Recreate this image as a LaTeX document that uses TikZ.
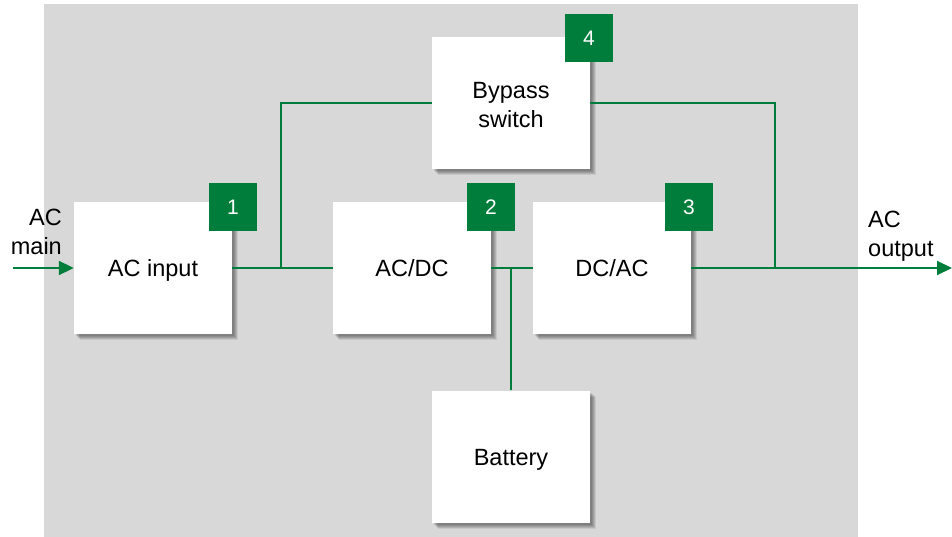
\documentclass[tikz,border=0pt]{standalone}
\usepackage{fontspec}
\setmainfont{Liberation Sans}
\usetikzlibrary{shadows,arrows.meta}
\definecolor{upsgreen}{RGB}{0,125,58}
\definecolor{panelgray}{RGB}{216,216,216}
\tikzset{
  x=1pt, y=-1pt,
  softshadow/.style={
    general shadow={fill=black,opacity=0.10,shadow xshift=2pt,shadow yshift=-2pt},
    general shadow={fill=black,opacity=0.10,shadow xshift=3pt,shadow yshift=-3pt},
    general shadow={fill=black,opacity=0.10,shadow xshift=4pt,shadow yshift=-4pt},
    general shadow={fill=black,opacity=0.10,shadow xshift=5pt,shadow yshift=-5pt},
    general shadow={fill=black,opacity=0.08,shadow xshift=6pt,shadow yshift=-6pt}},
  block/.style={softshadow, fill=white, minimum width=158pt, minimum height=132pt,
    inner sep=0pt, align=center, text height=17pt, text depth=0pt,
    font=\fontsize{23.5}{28.5}\selectfont},
  badge/.style={fill=upsgreen, text=white, minimum size=48pt, inner sep=0pt,
    font=\fontsize{21}{24}\selectfont},
  wire/.style={draw=upsgreen, line width=2pt},
  arrowwire/.style={wire, -{Triangle[length=15pt,width=14pt]}},
  label/.style={font=\fontsize{23.5}{29}\selectfont, inner sep=0pt}
}
\begin{document}
\begin{tikzpicture}
  % page area and grey panel
  \useasboundingbox (0,0) rectangle (952,537);
  \fill[panelgray] (44,4) rectangle (858,537);

  % junction points on the main power path
  \coordinate (jin)  at (281,268);
  \coordinate (jbat) at (511,268);
  \coordinate (jout) at (775,268);
  \coordinate (mainsrc) at (13,268);
  \coordinate (outend) at (952,268);

  % functional blocks
  \node[block] (acin)   at (153,268)   {AC input};
  \node[block] (acdc)   at (412,268)   {AC/DC};
  \node[block] (dcac)   at (612,268)   {DC/AC};
  \node[block, text height=49pt] (bypass) at (511,103) {Bypass\\switch};
  \node[block] (batt)   at (511,456.5) {Battery};

  % connections
  \draw[arrowwire] (mainsrc) -- (acin.west);
  \draw[wire] (acin.east) -- (acdc.west);
  \draw[wire] (jin) |- (bypass.west);
  \draw[wire] (bypass.east) -| (jout);
  \draw[wire] (acdc.east) -- (dcac.west);
  \draw[wire] (jbat) -- (batt.north);
  \draw[arrowwire] (dcac.east) -- (outend);

  % numbered badges
  \node[badge] (b1) at (233,207) {1};
  \node[badge] (b2) at (491,207) {2};
  \node[badge] (b3) at (689,207) {3};
  \node[badge] (b4) at (589,38)  {4};

  % external labels
  \node[label, anchor=east, align=right] (lmain) at (62,232) {AC\\main};
  \node[label, anchor=west, align=left] (lout) at (868,236) {AC\\output};
\end{tikzpicture}
\end{document}
